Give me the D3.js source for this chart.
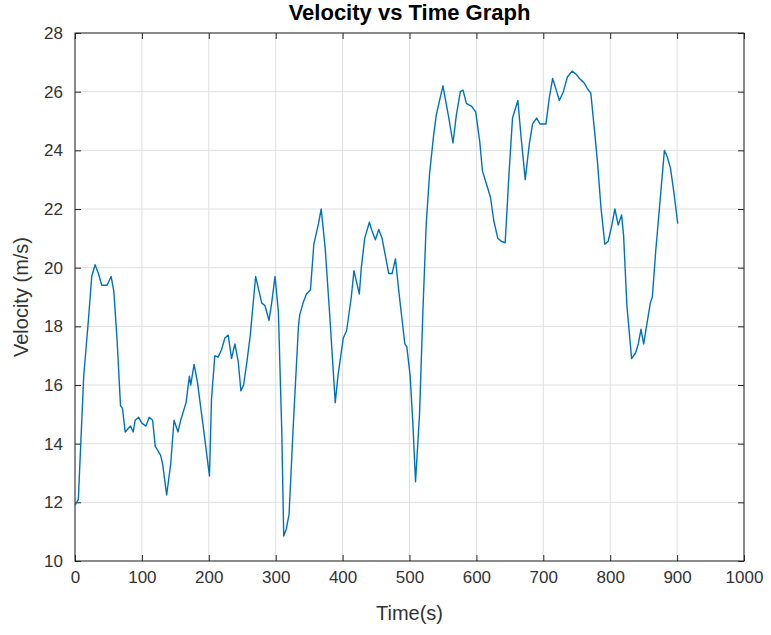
<!DOCTYPE html>
<html>
<head>
<meta charset="utf-8">
<script src="https://cdn.jsdelivr.net/npm/d3@7"></script>
<style>
  body { margin: 0; background: #fff; }
  svg { display: block; font-family: "Liberation Sans", Arial, sans-serif; }
</style>
</head>
<body>
<div id="chart"></div>
<script>
// Time samples (s)
const timeValues = [
  0, 5, 13, 20, 25, 30, 35, 40, 48, 54, 58, 63, 68, 71, 75, 83, 87, 90, 95, 100,
  106, 111, 116, 120, 123, 128, 131, 137, 143, 148, 154, 158, 166, 171, 173, 178, 183, 191, 201, 204,
  209, 214, 219, 224, 229, 234, 239, 244, 248, 252, 257, 262, 270, 274, 279, 284, 290, 294, 299, 304,
  309, 312, 316, 320, 326, 334, 336, 341, 346, 352, 357, 364, 368, 374, 381, 389, 393, 401, 406, 413,
  417, 425, 428, 433, 440, 444, 449, 454, 459, 464, 469, 474, 479, 484, 489, 493, 496, 501, 505, 509,
  515, 520, 525, 530, 536, 540, 545, 550, 558, 565, 570, 576, 580, 585, 593, 599, 605, 609, 615, 621,
  626, 632, 637, 643, 649, 654, 662, 667, 673, 679, 684, 690, 695, 704, 709, 714, 720, 724, 730, 736,
  743, 749, 754, 761, 766, 771, 776, 781, 786, 792, 797, 802, 807, 812, 817, 820, 825, 832, 838, 842,
  846, 850, 855, 860, 863, 868, 875, 881, 885, 890, 895, 901
];

// Velocity (m/s) at each time sample
const velocityValues = [
  11.9, 12.1, 16.3, 18.2, 19.7, 20.1, 19.8, 19.4, 19.4, 19.7, 19.2, 17.5, 15.3, 15.2, 14.4, 14.6, 14.4, 14.8, 14.9, 14.7,
  14.6, 14.9, 14.8, 13.9, 13.8, 13.6, 13.3, 12.25, 13.3, 14.8, 14.4, 14.8, 15.4, 16.3, 16.0, 16.7, 16.1, 14.7, 12.9, 15.5,
  17.0, 16.95, 17.2, 17.6, 17.7, 16.9, 17.4, 16.8, 15.8, 16.0, 16.8, 17.7, 19.7, 19.3, 18.8, 18.7, 18.2, 18.8, 19.7, 18.5,
  14.5, 10.85, 11.1, 11.6, 14.5, 18.0, 18.4, 18.8, 19.1, 19.25, 20.8, 21.5, 22.0, 20.65, 18.3, 15.4, 16.3, 17.6, 17.85, 19.0,
  19.9, 19.1, 20.0, 21.0, 21.55, 21.25, 20.95, 21.3, 21.0, 20.4, 19.8, 19.8, 20.3, 19.2, 18.2, 17.4, 17.3, 16.3, 14.7, 12.7,
  15.0, 18.5, 21.5, 23.2, 24.5, 25.2, 25.7, 26.2, 25.2, 24.25, 25.2, 26.0, 26.05, 25.6, 25.5, 25.3, 24.3, 23.3, 22.85, 22.4,
  21.6, 21.0, 20.9, 20.85, 23.3, 25.1, 25.7, 24.4, 23.0, 24.2, 24.9, 25.1, 24.9, 24.9, 25.8, 26.45, 26.0, 25.7, 26.0, 26.5,
  26.7, 26.6, 26.45, 26.3, 26.1, 25.95, 24.8, 23.6, 22.1, 20.8, 20.9, 21.4, 22.0, 21.45, 21.8, 21.1, 18.7, 16.9, 17.1, 17.4,
  17.9, 17.4, 18.1, 18.8, 19.0, 20.55, 22.4, 24.0, 23.8, 23.4, 22.6, 21.5
];

// Tick labels
const xTicks = [0, 100, 200, 300, 400, 500, 600, 700, 800, 900, 1000];
const yTicks = [10, 12, 14, 16, 18, 20, 22, 24, 26, 28];

const data = timeValues.map((t, i) => ({ t: t, v: velocityValues[i] }));

// SVG setup
const margin = { top: 33, right: 27, bottom: 74, left: 75 };
const width = 771 - margin.left - margin.right;
const height = 635 - margin.top - margin.bottom;

const svgRoot = d3.select("#chart")
  .append("svg")
  .attr("width", 771)
  .attr("height", 635);

const svg = svgRoot.append("g")
  .attr("transform", `translate(${margin.left},${margin.top})`);

// Scales
const x = d3.scaleLinear().domain([0, 1000]).range([0, width]);
const y = d3.scaleLinear().domain([10, 28]).range([height, 0]);

// Grid lines
svg.append("g")
  .selectAll("line")
  .data(xTicks)
  .enter()
  .append("line")
  .attr("x1", d => x(d))
  .attr("x2", d => x(d))
  .attr("y1", 0)
  .attr("y2", height)
  .attr("stroke", "#dfdfdf")
  .attr("stroke-width", 1);

svg.append("g")
  .selectAll("line")
  .data(yTicks)
  .enter()
  .append("line")
  .attr("x1", 0)
  .attr("x2", width)
  .attr("y1", d => y(d))
  .attr("y2", d => y(d))
  .attr("stroke", "#dfdfdf")
  .attr("stroke-width", 1);

// Axes (MATLAB style: ticks point inward, on all four sides)
const tickLen = 6;
const styleAxis = g => {
  g.select(".domain").remove();
  g.selectAll(".tick line").attr("stroke", "#262626");
  g.selectAll(".tick text")
    .attr("fill", "#333")
    .attr("font-size", 17);
};

svg.append("g")
  .attr("transform", `translate(0,${height})`)
  .call(d3.axisBottom(x).tickValues(xTicks).tickFormat(d3.format("d"))
    .tickSizeInner(-tickLen).tickSizeOuter(0).tickPadding(tickLen + 4))
  .call(styleAxis);

svg.append("g")
  .call(d3.axisLeft(y).tickValues(yTicks).tickFormat(d3.format("d"))
    .tickSizeInner(-tickLen).tickSizeOuter(0).tickPadding(tickLen + 6))
  .call(styleAxis);

svg.append("g")
  .call(d3.axisTop(x).tickValues(xTicks).tickSizeInner(-tickLen).tickSizeOuter(0).tickFormat(""))
  .call(styleAxis);

svg.append("g")
  .attr("transform", `translate(${width},0)`)
  .call(d3.axisRight(y).tickValues(yTicks).tickSizeInner(-tickLen).tickSizeOuter(0).tickFormat(""))
  .call(styleAxis);

// Box
svg.append("rect")
  .attr("x", 0)
  .attr("y", 0)
  .attr("width", width)
  .attr("height", height)
  .attr("fill", "none")
  .attr("stroke", "#262626")
  .attr("stroke-width", 1);

// Line
const line = d3.line()
  .x(d => x(d.t))
  .y(d => y(d.v));

svg.append("path")
  .datum(data)
  .attr("fill", "none")
  .attr("stroke", "#0072BD")
  .attr("stroke-width", 1.4)
  .attr("stroke-linejoin", "round")
  .attr("d", line);

// Title and labels
svgRoot.append("text")
  .attr("x", margin.left + width / 2)
  .attr("y", 20)
  .attr("text-anchor", "middle")
  .attr("font-size", 22)
  .attr("font-weight", "bold")
  .attr("fill", "#000")
  .text("Velocity vs Time Graph");

svgRoot.append("text")
  .attr("x", margin.left + width / 2)
  .attr("y", 620)
  .attr("text-anchor", "middle")
  .attr("font-size", 20)
  .attr("fill", "#333")
  .text("Time(s)");

svgRoot.append("text")
  .attr("transform", "rotate(-90)")
  .attr("x", -(margin.top + height / 2))
  .attr("y", 28)
  .attr("text-anchor", "middle")
  .attr("font-size", 20)
  .attr("fill", "#333")
  .text("Velocity (m/s)");
</script>
</body>
</html>
